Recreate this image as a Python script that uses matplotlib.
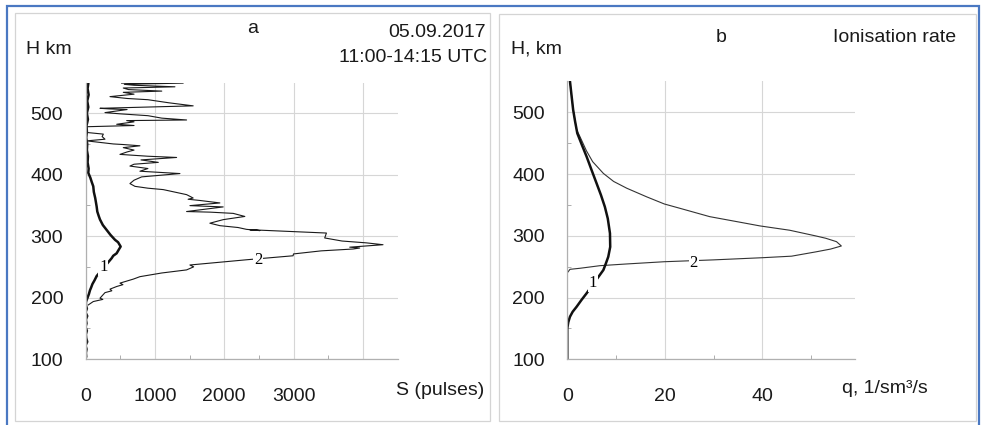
import matplotlib
matplotlib.use("Agg")
import matplotlib.pyplot as plt
from matplotlib.patches import Rectangle

plt.rcParams["font.family"] = ["Liberation Sans", "DejaVu Sans"]

# panel a: count profiles (S, pulses) vs height
a_s2 = [521, 1409, 560, 700, 1290, 545, 620, 1100, 545, 700, 353, 600, 900, 1200, 1553,
        209, 350, 600, 281, 500, 900, 1100, 1458, 594, 700, 450, 700, 7, 17, 257, 240,
        281, 17, 400, 550, 785, 545, 700, 600, 497, 900, 1314, 800, 1050, 700, 641, 900,
        785, 1362, 810, 700, 641, 713, 900, 1121, 1458, 1553, 1480, 1650, 1938, 1506,
        1986, 1458, 1800, 2130, 2298, 1986, 1794, 1938, 2200, 2322, 2514, 2370, 3475,
        3450, 3700, 4052, 4291, 3811, 3955, 3859, 3400, 3000, 2994, 2323, 1506, 1560,
        1458, 1100, 785, 689, 497, 540, 450, 353, 380, 281, 209, 250, 112, 40]
a_h2 = [549, 549, 547, 545.5, 543, 541, 538.5, 536, 534, 531, 527, 524, 522, 517, 512,
        508, 507, 506, 501, 499, 496, 492, 489, 488, 486, 482, 480, 478, 468.7, 466, 462,
        457.7, 455, 450, 449, 447, 444, 440, 437, 433, 430, 428, 424, 420, 417, 414, 410,
        405.6, 401.8, 396.4, 391, 385.5, 381, 378, 375.7, 367.5, 362, 360, 358, 354, 349.6,
        347.5, 340, 339, 337, 332, 326.8, 321, 317, 314, 311, 309, 310.4, 305,
        297, 292, 289, 286, 282, 280.6, 279, 276, 271, 268, 261.5, 253, 250,
        245, 240, 234, 230, 223.5, 221, 218, 213.7, 211, 208, 199, 197, 193.5, 188]

a_s1 = [40, 30, 45, 25, 40, 20, 35, 15, 20, 10, 25, 20, 35, 30, 45, 40, 70, 90, 112,
        120, 140, 161, 170, 190, 209, 250, 305, 360, 425, 470, 507, 480, 449, 400, 377,
        161, 130, 100, 80, 65, 50, 30, 7, 5, 20, 0, 25, 5, 15, 0, 20, 5, 10, 25, 0, 15,
        5, 10, 0]
a_h1 = [548, 540, 530, 520, 510, 500, 490, 480, 470, 460, 450, 440, 430, 420, 410, 403,
        395, 388, 381, 372, 362, 348, 340, 333, 327, 318, 310, 302, 294, 290, 283, 278,
        272, 268, 264, 235, 228, 222, 216, 212, 206, 200, 193, 188, 182, 176, 170, 164,
        158, 152, 146, 140, 134, 128, 122, 116, 110, 104, 100]

# panel b: ionisation rate q vs height
b_q1 = [0.55, 0.9, 1.2, 1.6, 2.05, 3.0, 3.97, 5.0, 6.0, 6.9, 7.7, 8.3, 8.75, 8.8, 8.4,
        7.9, 7.4, 3.97, 2.9, 1.9, 1.1, 0.55, 0.2, 0, 0]
b_h1 = [550, 525, 504, 485, 466, 447, 428, 406, 385, 366, 347, 328, 304, 282, 266,
        255, 244.6, 207, 196, 185, 177, 169, 160, 150, 100]

b_q2 = [0, 0, 0.55, 2.6, 6.7, 12.2, 19.9, 30, 40, 46, 51, 54, 56.2, 55.2, 53, 51,
        45.6, 39.5, 35.4, 29.2, 23.1, 19.9, 16.3, 12.2, 9.5, 7.4, 5.2, 3.9, 2.6, 1.9,
        1.2, 0.9, 0.55]
b_h2 = [100, 240, 245.7, 247.4, 251.6, 254.4, 258, 261, 264.5, 267, 274, 278.5,
        283.5, 290.5, 296, 299.7, 309, 316, 322, 331, 344.5, 351.5, 363, 377, 388,
        401, 420, 438, 460.5, 472, 504, 525, 550]

yticks = [100, 200, 300, 400, 500]
a_xticks = [0, 1000, 2000, 3000, 4000]
a_xlabels = ["0", "1000", "2000", "3000", ""]
b_xticks = [0, 20, 40]
b_xlabels = ["0", "20", "40"]

W, H = 981, 425
fig = plt.figure(figsize=(W / 100, H / 100), dpi=100)

# outer blue frame and panel boxes
fig.patches.append(Rectangle((7 / W, -0.1), 972 / W, 1.1 - 6 / H, transform=fig.transFigure,
                             fill=False, edgecolor="#4a78c2", linewidth=1.6))
fig.patches.append(Rectangle((15 / W, 1 - 421 / H), 475 / W, 408 / H, transform=fig.transFigure,
                             fill=False, edgecolor="#d4d4d4", linewidth=0.9))
fig.patches.append(Rectangle((499 / W, 1 - 421 / H), 477 / W, 407 / H, transform=fig.transFigure,
                             fill=False, edgecolor="#d4d4d4", linewidth=0.9))

ax_a = fig.add_axes([85.5 / W, 1 - 359 / H, 312 / W, 276.5 / H])
ax_b = fig.add_axes([567.3 / W, 1 - 359.3 / H, 287.7 / W, 277.9 / H])


def style(ax, xmax, xticks, xlabels, xminor):
    ax.set_xlim(0, xmax)
    ax.set_ylim(100, 550)
    ax.set_xticks(xticks)
    ax.set_xticklabels(xlabels)
    ax.set_xticks(xminor, minor=True)
    ax.set_yticks(yticks)
    ax.set_yticks([150, 250, 350, 450], minor=True)
    ax.grid(True, color="#d6d6d6", linewidth=0.8)
    ax.set_axisbelow(True)
    for side in ["top", "right"]:
        ax.spines[side].set_visible(False)
    for side in ["left", "bottom"]:
        ax.spines[side].set_color("#b0b0b0")
        ax.spines[side].set_linewidth(0.9)
    ax.tick_params(which="both", direction="in", color="#a0a0a0", labelsize=14,
                   labelcolor="#1a1a1a")
    ax.tick_params(which="major", length=0)
    ax.tick_params(which="minor", length=3)
    ax.tick_params(axis="x", pad=21)
    ax.tick_params(axis="y", pad=16)
    ax.patch.set_alpha(0)


style(ax_a, 4500, a_xticks, a_xlabels, [500, 1500, 2500, 3500])
style(ax_b, 59, b_xticks, b_xlabels, [10, 30, 50])

ax_a.plot(a_s2, a_h2, color="#1a1a1a", linewidth=0.8)
ax_a.plot(a_s1, a_h1, color="#111111", linewidth=1.8)
ax_b.plot(b_q2, b_h2, color="#333333", linewidth=0.8)
ax_b.plot(b_q1, b_h1, color="#111111", linewidth=1.8)

lbl = dict(family=["Liberation Serif", "DejaVu Serif"], fontsize=12, ha="center",
           va="center", bbox=dict(facecolor="white", edgecolor="none", pad=0.6))
ax_a.text(257, 249, "1", **lbl)
ax_a.text(2490, 261.5, "2", **lbl)
ax_b.text(5.3, 224, "1", **lbl)
ax_b.text(25.9, 256, "2", **lbl)


def ftext(x, y, s, ha):
    fig.text(x / W, 1 - y / H, s, ha=ha, va="baseline", fontsize=14, color="#1a1a1a")


ftext(26, 54, "H km", "left")
ftext(253, 33.3, "a", "center")
ftext(486, 36.7, "05.09.2017", "right")
ftext(487, 61.7, "11:00-14:15 UTC", "right")
ftext(396, 395, "S (pulses)", "left")
ftext(510.7, 53.3, "H, km", "left")
ftext(721, 41.7, "b", "center")
ftext(956, 41.7, "Ionisation rate", "right")
ftext(841.7, 393, "q, 1/sm³/s", "left")

fig.savefig("out.png", dpi=100, facecolor="white")
